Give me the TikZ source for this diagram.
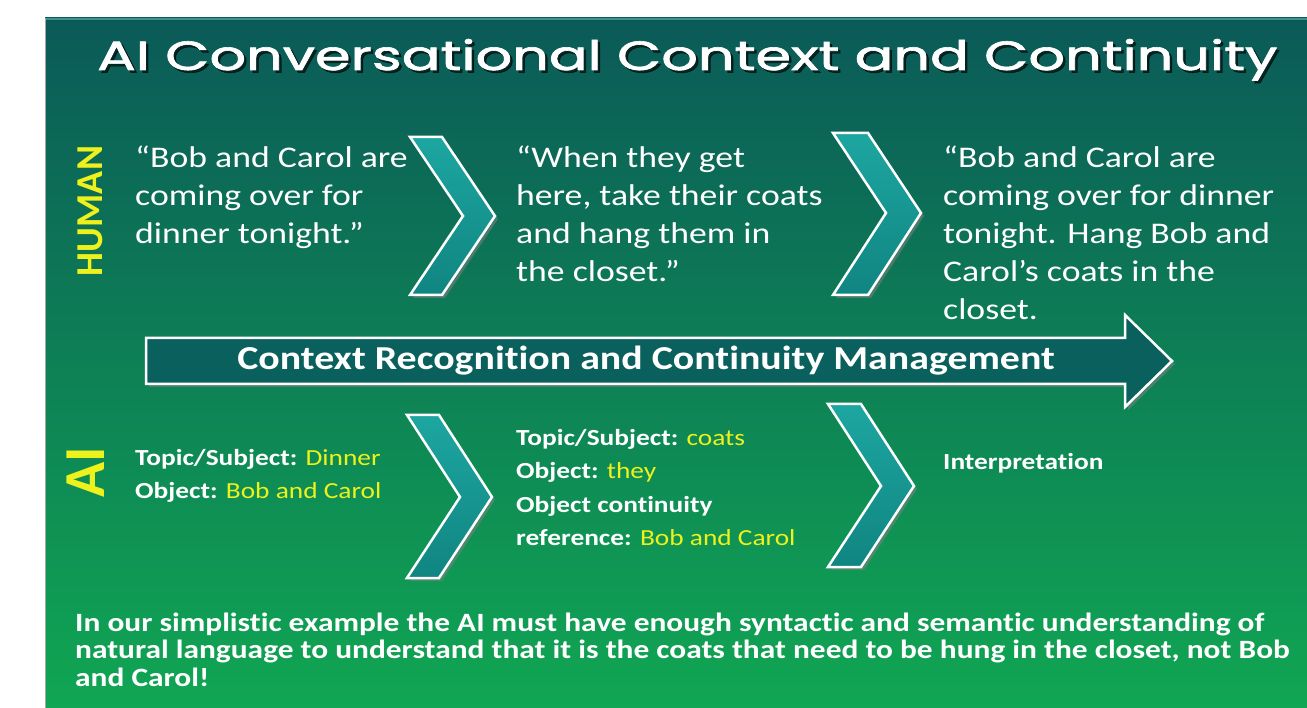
\documentclass[tikz,border=0pt]{standalone}
\usepackage{fontspec}
\setmainfont{Carlito}[FakeStretch=1.19,Ligatures=NoCommon]
\newfontfamily\sidefont{Carlito}
\newfontfamily\headfont{Poppins}[FakeBold=1.5]
\usetikzlibrary{shadows}
\definecolor{bgtop}{HTML}{0B5A58}
\definecolor{bgmid}{HTML}{0D7A6C}
\definecolor{bgbot}{HTML}{10A653}
\definecolor{rimteal}{HTML}{3E918C}
\definecolor{chevtop}{HTML}{1DA6A1}
\definecolor{chevbot}{HTML}{108581}
\definecolor{bandteal}{HTML}{0A605D}
\definecolor{hilite}{HTML}{EEF21C}

\begin{document}
\begin{tikzpicture}[x=1pt,y=-1pt,
  chev/.style={top color=chevtop,bottom color=chevbot,draw=white,line width=2.5pt,line join=miter,
    drop shadow={opacity=.55,shadow xshift=3pt,shadow yshift=-3pt}},
  band/.style={fill=bandteal,draw=white,line width=2.5pt,line join=miter,
    drop shadow={opacity=.55,shadow xshift=3pt,shadow yshift=-3pt}},
  say/.style={anchor=base west,align=left,inner sep=0,text=white,
    font=\fontsize{30}{37.8}\selectfont},
  tag/.style={anchor=base west,align=left,inner sep=0,text=white,
    font=\bfseries\fontsize{23}{33.5}\selectfont},
  side/.style={text=hilite,rotate=90,inner sep=0}]
\useasboundingbox (0,0) rectangle (1307,708);
\clip (0,0) rectangle (1307,708);
\pgfmathsetmacro{\arm}{32}
\pgfmathsetmacro{\dep}{53}

% panel
\shade[top color=bgtop,middle color=bgmid,bottom color=bgbot] (45,18) rectangle (1330,708);
\draw[rimteal,line width=2pt] (45,19) -- (1330,19);
\draw[gray!70,line width=1.5pt] (45.5,18) -- (45.5,708);

% heading
\node[anchor=base west,inner sep=0,text=black,opacity=.6] at (99.5,72.5)
  {\resizebox{1180pt}{31pt}{\headfont AI Conversational Context and Continuity}};
\node (title) [anchor=base west,inner sep=0,text=white] at (97,70)
  {\resizebox{1180pt}{31pt}{\headfont AI Conversational Context and Continuity}};

% row labels
\node (human) [side,font=\sidefont\bfseries\fontsize{38}{40}\selectfont] at (90,211) {HUMAN};
\node (ai) [side,font=\sidefont\bfseries\fontsize{58}{60}\selectfont] at (86,472) {AI};

% chevrons
\fill[chev] (410,137) -- ++(\arm,0) -- (410+\arm+\dep,216) -- (410+\arm,295) -- (410,295) -- (410+\dep,216) -- cycle;
\fill[chev] (833,133) -- ++(\arm+3,0) -- (833+\arm+3+\dep,213) -- (833+\arm+3,295) -- (833,295) -- (833+\dep,213) -- cycle;
\fill[chev] (407,415) -- ++(\arm,0) -- (407+\arm+\dep,497) -- (407+\arm,578) -- (407,578) -- (407+\dep,497) -- cycle;
\fill[chev] (828,404) -- ++(\arm+1,0) -- (828+\arm+1+\dep,486) -- (828+\arm+1,567) -- (828,567) -- (828+\dep,486) -- cycle;

% flow band
\fill[band] (146,338) -- (1125,338) -- (1125,315) -- (1172,361) -- (1125,407) -- (1125,384) -- (146,384) -- cycle;
\node (flow) [text=white,font=\bfseries\fontsize{33.5}{36}\selectfont,inner sep=0] at (646,361)
  {Context Recognition and Continuity Management};

% what the human says (base = last line)
\node (say1) [say] at (135,243.6) {“Bob and Carol are\\coming over for\\dinner tonight.”};
\node (say2) [say] at (516,281.4) {“When they get\\here, take their coats\\and hang them in\\the closet.”};
\node (say3) [say] at (943,319.2) {“Bob and Carol are\\coming over for dinner\\tonight. Hang Bob and\\Carol’s coats in the\\closet.};

% what the AI tracks
\node (tag1) [tag] at (135,498.5) {Topic/Subject: \textcolor{hilite}{\mdseries Dinner}\\
  Object: \textcolor{hilite}{\mdseries Bob and Carol}};
\node (tag2) [tag] at (516,545.5) {Topic/Subject: \textcolor{hilite}{\mdseries coats}\\
  Object: \textcolor{hilite}{\mdseries they}\\Object continuity\\
  reference: \textcolor{hilite}{\mdseries Bob and Carol}};
\node (tag3) [tag] at (943,470) {Interpretation};

% closing remark
\node (note) [anchor=base west,align=left,inner sep=0,text=white,
  font=\bfseries\fontsize{26.4}{27.5}\selectfont] at (75,686)
  {In our simplistic example the AI must have enough syntactic and semantic understanding of\\
  natural language to understand that it is the coats that need to be hung in the closet, not Bob\\
  and Carol!};
\end{tikzpicture}
\end{document}
